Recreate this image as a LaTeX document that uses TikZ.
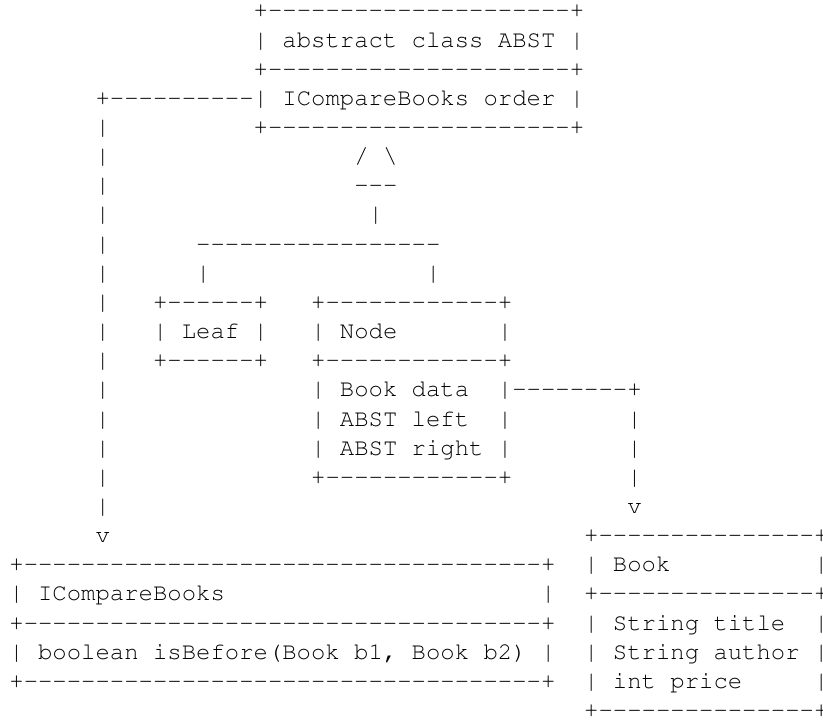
\documentclass[tikz,border=0pt]{standalone}
\usepackage[T1]{fontenc}
\usepackage{courier}
\usepackage{tikz}

\newcommand\dashes[1]{\foreach \d in {1,...,#1}{-{}}}

\begin{document}
\begin{tikzpicture}[x=10.7775pt,y=-21.8625pt]
\tikzstyle{every node}+=[inner sep=0pt]
\tikzstyle{ascii}=[anchor=base west,font=\ttfamily\fontsize{17.96pt}{21.86pt}\selectfont]
\useasboundingbox (-6.84pt,13.43pt) rectangle (610.41pt,-525.82pt);
\node [ascii] (abstTop) at (17,0) {+\dashes{21}+};
\node [ascii] (abstName) at (17,1) {| abstract class ABST |};
\node [ascii] (abstMid) at (17,2) {+\dashes{21}+};
\node [ascii] (abstOrder) at (17,3) {| ICompareBooks order |};
\node [ascii] (abstBot) at (17,4) {+\dashes{21}+};
\node [ascii] (orderLink) at (6,3) {+\dashes{10}};
\foreach \r in {4,...,17}
  \node [ascii] (orderBar\r) at (6,\r) {|};
\node [ascii] (orderHead) at (6,18) {v};
\node [ascii] (triTop) at (24,5) {/ \textbackslash};
\node [ascii] (triBase) at (24,6) {\dashes{3}};
\node [ascii] (triStem) at (25,7) {|};
\node [ascii] (branchBar) at (13,8) {\dashes{17}};
\node [ascii] (leafStem) at (13,9) {|};
\node [ascii] (nodeStem) at (29,9) {|};
\node [ascii] (leafTop) at (10,10) {+\dashes{6}+};
\node [ascii] (leafName) at (10,11) {| Leaf |};
\node [ascii] (leafBot) at (10,12) {+\dashes{6}+};
\node [ascii] (nodeTop) at (21,10) {+\dashes{12}+};
\node [ascii] (nodeName) at (21,11) {| Node~~~~~~~|};
\node [ascii] (nodeMid) at (21,12) {+\dashes{12}+};
\node [ascii] (nodeData) at (21,13) {| Book data~~|};
\node [ascii] (nodeLeft) at (21,14) {| ABST left~~|};
\node [ascii] (nodeRight) at (21,15) {| ABST right |};
\node [ascii] (nodeBot) at (21,16) {+\dashes{12}+};
\node [ascii] (dataLink) at (35,13) {\dashes{8}+};
\foreach \r in {14,15,16}
  \node [ascii] (dataBar\r) at (43,\r) {|};
\node [ascii] (dataHead) at (43,17) {v};
\node [ascii] (cmpTop) at (0,19) {+\dashes{36}+};
\node [ascii] (cmpName) at (0,20) {| ICompareBooks~~~~~~~~~~~~~~~~~~~~~~|};
\node [ascii] (cmpMid) at (0,21) {+\dashes{36}+};
\node [ascii] (cmpMethod) at (0,22) {| boolean isBefore(Book b1, Book b2) |};
\node [ascii] (cmpBot) at (0,23) {+\dashes{36}+};
\node [ascii] (bookTop) at (40,18) {+\dashes{15}+};
\node [ascii] (bookName) at (40,19) {| Book~~~~~~~~~~|};
\node [ascii] (bookMid) at (40,20) {+\dashes{15}+};
\node [ascii] (bookTitle) at (40,21) {| String title~~|};
\node [ascii] (bookAuthor) at (40,22) {| String author |};
\node [ascii] (bookPrice) at (40,23) {| int price~~~~~|};
\node [ascii] (bookBot) at (40,24) {+\dashes{15}+};
\end{tikzpicture}
\end{document}
